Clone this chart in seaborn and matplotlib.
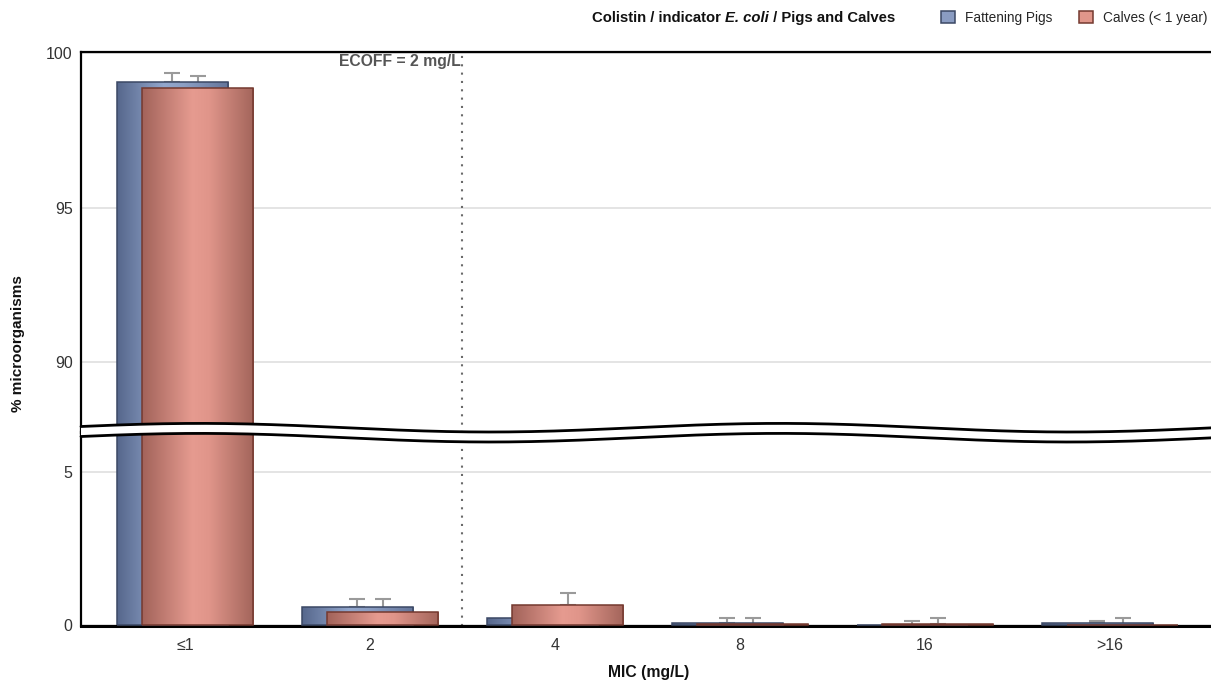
import numpy as np
import pandas as pd
import seaborn as sns
import matplotlib
matplotlib.use("Agg")
import matplotlib.pyplot as plt
from matplotlib.colors import LinearSegmentedColormap
from matplotlib.patches import Patch, Polygon
from matplotlib.lines import Line2D

# ---------------- data ----------------
mic_labels = ["≤1", "2", "4", "8", "16", ">16"]
series = ["Fattening Pigs", "Calves (< 1 year)"]
pigs = [99.06, 0.59, 0.23, 0.05, 0.0, 0.05]
calves = [98.86, 0.42, 0.65, 0.02, 0.02, 0.0]
pigs_upper = [99.35, 0.85, 0.45, 0.22, 0.12, 0.13]
calves_upper = [99.25, 0.85, 1.05, 0.22, 0.22, 0.22]
ecoff_position = 1.5  # between "2" and "4"
ecoff_label = "ECOFF = 2 mg/L"

df = pd.DataFrame({
    "mic": mic_labels * 2,
    "pct": pigs + calves,
    "group": [series[0]] * len(mic_labels) + [series[1]] * len(mic_labels),
})

# ---------------- style ----------------
sns.set_theme(style="white")
plt.rcParams["font.family"] = ["Liberation Sans", "DejaVu Sans"]

W, H = 1211, 681
fig = plt.figure(figsize=(W / 100, H / 100), dpi=100)


def fx(px):
    return px / W


def fy(py):
    return 1 - py / H


left_px, right_px = 81, 1211
ax_top = fig.add_axes([fx(left_px), fy(433), fx(right_px) - fx(left_px), fy(52) - fy(433)])
ax_bot = fig.add_axes([fx(left_px), fy(626), fx(right_px) - fx(left_px), fy(432) - fy(626)])

pig_cmap = LinearSegmentedColormap.from_list(
    "pig", [(0, "#56678c"), (0.42, "#93a7cd"), (0.6, "#8c9fc4"), (1, "#64759a")])
calf_cmap = LinearSegmentedColormap.from_list(
    "calf", [(0, "#a2635a"), (0.45, "#e69b90"), (0.6, "#e0958a"), (1, "#a3655b")])
cmaps = [pig_cmap, calf_cmap]
edges = ["#3b4864", "#74392f"]
offsets = [-0.069, 0.069]
bar_w = 0.6
grad = np.linspace(0, 1, 256).reshape(1, -1)

xlim = (-0.562, 5.546)
ylims = {
    "top": (100 - 380 / 30.9, 100 + 1 / 30.9),
    "bot": (-1 / 30.6, (625 - 432) / 30.6),
}

for name, ax in (("top", ax_top), ("bot", ax_bot)):
    ylo, yhi = ylims[name]
    sns.barplot(data=df, x="mic", y="pct", hue="group", order=mic_labels,
                hue_order=series, palette=["#8a9cc2", "#e0968a"], dodge=True,
                saturation=1, legend=False, ax=ax, errorbar=None)
    for k, cont in enumerate(ax.containers):
        for i, p in enumerate(cont.patches):
            x0 = i + offsets[k] - bar_w / 2
            p.set_x(x0)
            p.set_width(bar_w)
            p.set_facecolor("none")
            p.set_edgecolor(edges[k])
            p.set_linewidth(1.1)
            p.set_zorder(3 + 2 * k + 1)
            h = p.get_height()
            top = min(h, yhi)
            bot = max(0, ylo)
            if top > bot:
                im = ax.imshow(grad, extent=[x0, x0 + bar_w, bot, top], aspect="auto",
                               cmap=cmaps[k], interpolation="bicubic",
                               zorder=3 + 2 * k, origin="lower")
                im.set_clip_path(p)
    xp = np.arange(len(mic_labels))
    for k, (vals, ups) in enumerate([(pigs, pigs_upper), (calves, calves_upper)]):
        vals = np.array(vals)
        ups = np.array(ups)
        ax.errorbar(xp + offsets[k], vals, yerr=[np.zeros_like(vals), ups - vals],
                    fmt="none", ecolor="#9a9a9a", elinewidth=1.5, capsize=6,
                    capthick=1.5, zorder=2)
    ax.axvline(ecoff_position, color="#6a6a6a", linestyle=(0, (1, 3)), linewidth=1.5,
               zorder=2.5)
    ax.set_xlim(*xlim)
    ax.set_ylim(ylo, yhi)
    ax.set_axisbelow(True)
    ax.yaxis.grid(True, color="#e2e2e2", linewidth=1.3)
    ax.xaxis.grid(False)
    ax.set_xlabel("")
    ax.set_ylabel("")
    ax.spines["right"].set_visible(False)
    ax.spines["left"].set_color("black")
    ax.spines["left"].set_linewidth(1.6)
    ax.tick_params(axis="both", length=0, labelsize=11.5, colors="#333333", pad=6)

ax_top.set_yticks([90, 95, 100])
ax_top.set_xticks(range(len(mic_labels)))
ax_top.set_xticklabels([])
ax_top.spines["bottom"].set_visible(False)
ax_top.spines["top"].set_color("black")
ax_top.spines["top"].set_linewidth(1.6)

ax_bot.set_yticks([0, 5])
ax_bot.set_xticks(range(len(mic_labels)))
ax_bot.set_xticklabels(mic_labels)
ax_bot.spines["top"].set_visible(False)
ax_bot.spines["bottom"].set_color("black")
ax_bot.spines["bottom"].set_linewidth(2.2)
ax_bot.tick_params(axis="x", pad=9)

ax_top.text(ecoff_position - 0.012, 100 - 9 / 30.9, ecoff_label, ha="right", va="center",
            fontsize=11.3, fontweight="bold", color="#555555")

# ---------------- axis break ----------------
xs = np.linspace(left_px, right_px, 400)
y1 = 427.7 - 4.3 * np.cos(2 * np.pi * (xs - 200) / 580)
y2 = y1 + 10
poly_pts = np.vstack([np.column_stack([fx(xs), fy(y1)]),
                      np.column_stack([fx(xs[::-1]), fy(y2[::-1])])])
fig.add_artist(Polygon(poly_pts, closed=True, facecolor="white", edgecolor="none",
                       transform=fig.transFigure, zorder=10))
fig.add_artist(Line2D(fx(xs), fy(y1), color="black", linewidth=2,
                      transform=fig.transFigure, zorder=11))
fig.add_artist(Line2D(fx(xs), fy(y2), color="black", linewidth=2,
                      transform=fig.transFigure, zorder=11))

# ---------------- labels ----------------
fig.text(fx(18), fy(344), "% microorganisms", rotation=90, ha="center", va="center",
         fontsize=11, fontweight="bold", color="#111111")
fig.text(fx(649), fy(672), "MIC (mg/L)", ha="center", va="center",
         fontsize=11.3, fontweight="bold", color="#111111")

tfs = 10.7
t1 = fig.text(fx(592), fy(18), "Colistin / indicator ", ha="left", va="center",
              fontsize=tfs, fontweight="bold", color="#111111")
t2 = fig.text(0, 0, "E. coli", fontsize=tfs, fontweight="bold", fontstyle="italic",
              color="#111111", ha="left", va="center")
t3 = fig.text(0, 0, " / Pigs and Calves", fontsize=tfs, fontweight="bold",
              color="#111111", ha="left", va="center")
fig.canvas.draw()
r = fig.canvas.get_renderer()
bb1 = t1.get_window_extent(r)
t2.set_position((bb1.x1 / W, fy(18)))
bb2 = t2.get_window_extent(r)
t3.set_position((bb2.x1 / W, fy(18)))

handles = [Patch(facecolor="#8a9cc2", edgecolor=edges[0], linewidth=1.1),
           Patch(facecolor="#e0968a", edgecolor=edges[1], linewidth=1.1)]
fig.legend(handles, series, loc="center left", bbox_to_anchor=(fx(941), fy(18)),
           ncol=2, frameon=False, fontsize=9.8, handlelength=1.0, handleheight=1.0,
           handletextpad=0.75, columnspacing=2.0, borderaxespad=0, borderpad=0)

fig.savefig("out.png", dpi=100)
